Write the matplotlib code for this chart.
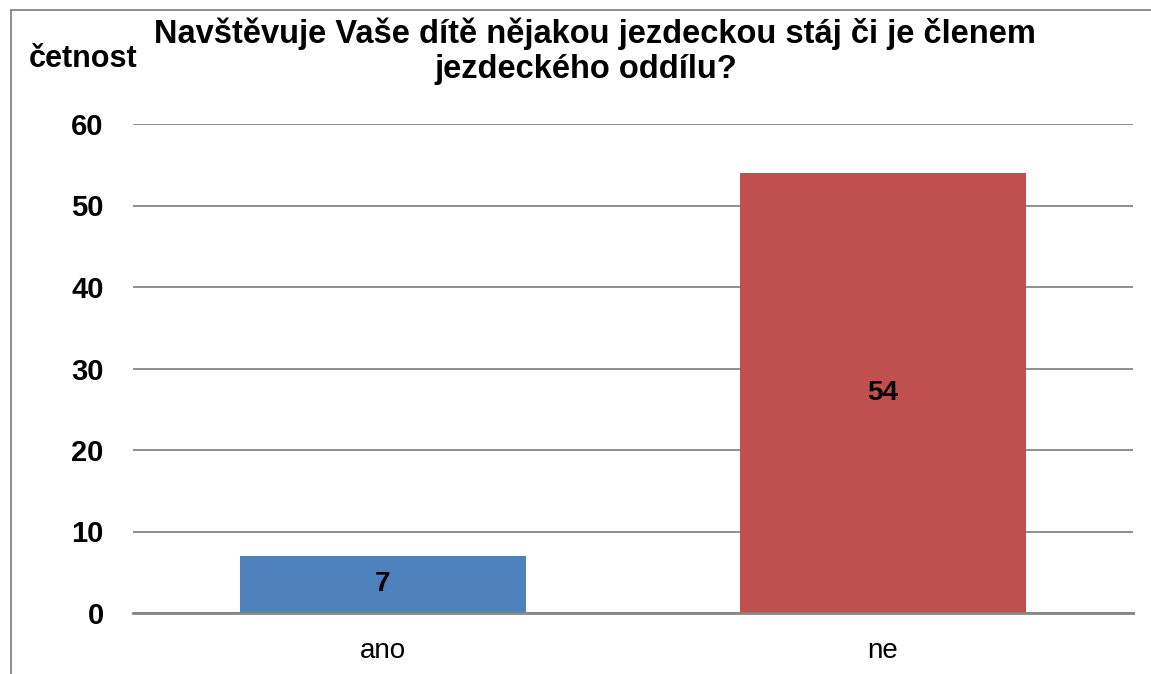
import matplotlib.pyplot as plt
from matplotlib.lines import Line2D

categories = ["ano", "ne"]
counts = [7, 54]
bar_colors = ["#4F81BD", "#C0504D"]
yticks = [0, 10, 20, 30, 40, 50, 60]
title_lines = ["Navštěvuje Vaše dítě nějakou jezdeckou stáj či je členem",
               "jezdeckého oddílu?"]
ylabel = "četnost"

plt.rcParams["font.family"] = ["Liberation Sans", "DejaVu Sans"]

W, H = 1151, 674
fig = plt.figure(figsize=(W / 100, H / 100), dpi=100)
ax = fig.add_axes([133 / W, 1 - 613 / H, 1000 / W, (613 - 124) / H])

x = list(range(len(categories)))
bars = ax.bar(x, counts, width=0.572, color=bar_colors, zorder=2)
for b, v in zip(bars, counts):
    ax.text(b.get_x() + b.get_width() / 2, v / 2, str(v), ha="center", va="center",
            fontsize=20, fontweight="bold", zorder=3)

ax.set_xlim(-0.5, 1.5)
ax.set_ylim(0, 60)
ax.set_yticks(yticks)
ax.set_yticklabels([str(t) for t in yticks], fontsize=21, fontweight="bold")
ax.set_xticks(x)
ax.set_xticklabels(categories, fontsize=20)
ax.tick_params(axis="y", length=0, pad=21)
ax.tick_params(axis="x", length=0, pad=18)
ax.grid(axis="y", color="#868686", linewidth=1.3, zorder=1)
for s in ["top", "right", "left"]:
    ax.spines[s].set_visible(False)
ax.spines["bottom"].set_color("#868686")
ax.spines["bottom"].set_linewidth(2)
ax.spines["bottom"].set_zorder(3)

# title, two centred lines
fig.text(595 / W, 1 - 43 / H, title_lines[0], ha="center", va="baseline",
         fontsize=23.5, fontweight="bold")
fig.text(586 / W, 1 - 78 / H, title_lines[1], ha="center", va="baseline",
         fontsize=23.5, fontweight="bold")
fig.text(83 / W, 1 - 67 / H, ylabel, ha="center", va="baseline", fontsize=22,
         fontweight="bold")

# outer frame, partly cut off at right and bottom
fig.add_artist(Line2D([10.5 / W, 10.5 / W], [0, 1 - 9.5 / H], color="#868686", lw=1.3))
fig.add_artist(Line2D([10.5 / W, 1], [1 - 9.5 / H, 1 - 9.5 / H], color="#868686", lw=1.3))

fig.savefig("out.png", dpi=100)
